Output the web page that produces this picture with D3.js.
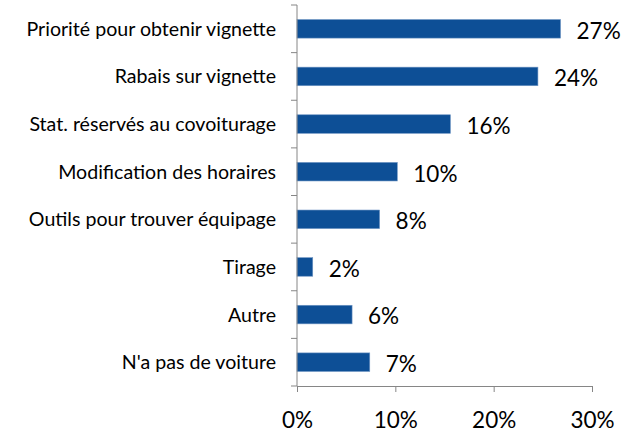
<!DOCTYPE html>
<html>
<head>
<meta charset="utf-8">
<script src="https://cdn.jsdelivr.net/npm/d3@7"></script>
<style>
body{margin:0;background:#fff}
svg text{font-family:Lato,"Open Sans",sans-serif;fill:#000}
</style>
</head>
<body>
<svg></svg>
<script>
var screen = {width:627,height:432}
var margins = {top:5,right:35,bottom:46,left:297}

// data
var categories = ["Priorité pour obtenir vignette","Rabais sur vignette","Stat. réservés au covoiturage","Modification des horaires","Outils pour trouver équipage","Tirage","Autre","N'a pas de voiture"]
var values = [26.8,24.5,15.6,10.2,8.4,1.6,5.6,7.4]
var valueLabels = ["27%","24%","16%","10%","8%","2%","6%","7%"]
var xTicks = [0,10,20,30]

var width = screen.width - margins.left - margins.right
var height = screen.height - margins.top - margins.bottom

var svg = d3.select("svg")
    .attr("width",screen.width)
    .attr("height",screen.height)

var g = svg.append("g")
    .attr("transform","translate("+margins.left+","+margins.top+")")

var xScale = d3.scaleLinear()
    .domain([0,30])
    .range([0,width])

var yScale = d3.scaleBand()
    .domain(categories)
    .range([0,height])
    .paddingInner(0.61)
    .paddingOuter(0.305)

//bars
g.selectAll(".bar")
    .data(categories)
    .enter()
    .append("rect")
    .attr("class","bar")
    .attr("x",xScale(0))
    .attr("y",function(c){return yScale(c)})
    .attr("width",function(c,i){return xScale(values[i])})
    .attr("height",yScale.bandwidth())
    .attr("fill","#0d4f96")
    .attr("stroke","#6f95c4")
    .attr("stroke-width",0.6)

//value labels
g.selectAll(".val")
    .data(categories)
    .enter()
    .append("text")
    .attr("class","val")
    .attr("x",function(c,i){return xScale(values[i])+16})
    .attr("y",function(c){return yScale(c)+yScale.bandwidth()/2})
    .attr("dy","0.44em")
    .style("font-size","22.5px")
    .text(function(c,i){return valueLabels[i]})

//category labels
g.selectAll(".cat")
    .data(categories)
    .enter()
    .append("text")
    .attr("class","cat")
    .attr("x",-21)
    .attr("y",function(c){return yScale(c)+yScale.bandwidth()/2})
    .attr("dy","0.36em")
    .attr("text-anchor","end")
    .style("font-size","19.6px")
    .text(function(c){return c})

//left axis with ticks between categories
var step = yScale.step()
var boundaries = d3.range(categories.length+1).map(function(i){return i*step})
g.append("line")
    .attr("x1",0).attr("x2",0)
    .attr("y1",0).attr("y2",height)
    .attr("stroke","#868686")
g.selectAll(".ytick")
    .data(boundaries)
    .enter()
    .append("line")
    .attr("x1",-6).attr("x2",0)
    .attr("y1",function(d){return d}).attr("y2",function(d){return d})
    .attr("stroke","#868686")

//bottom axis
var xAxis = d3.axisBottom(xScale)
    .tickValues(xTicks)
    .tickFormat(function(d){return d+"%"})
    .tickSize(6)
var ax = g.append("g")
    .attr("transform","translate(0,"+height+")")
    .call(xAxis)
ax.select(".domain").attr("stroke","#868686")
ax.selectAll(".tick line").attr("stroke","#868686")
ax.selectAll("text")
    .attr("y",42)
    .attr("dy","0")
    .style("font-size","22.5px")
    .style("font-family","Lato,'Open Sans',sans-serif")
    .attr("fill","#000")
</script>
</body>
</html>
